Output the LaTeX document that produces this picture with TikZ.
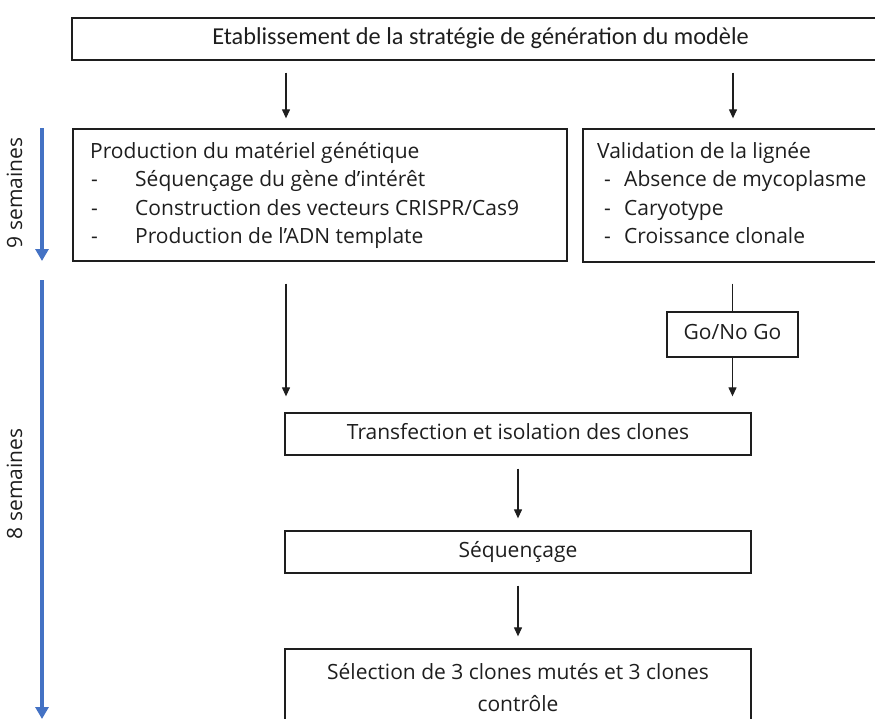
\documentclass[tikz,border=0pt]{standalone}
\usepackage{fontspec}
\setmainfont{Open Sans}
\newfontfamily\titlefont{Carlito}
\usetikzlibrary{arrows.meta, positioning, calc}
\definecolor{timeblue}{HTML}{4472C4}
\definecolor{inkgray}{HTML}{1E1E1E}

\begin{document}
\begin{tikzpicture}[x=1pt, y=-1pt,
    box/.style={draw=inkgray, line width=1.3pt, inner sep=0pt},
    boxtext/.style={font=\fontsize{21}{25}\selectfont, text=inkgray, inner sep=0pt,
                    text height=15pt, text depth=5pt},
    arrowline/.style={-{Triangle[length=9pt, width=8pt]}, line width=1.2pt, inkgray},
    plainline/.style={line width=1.2pt, inkgray},
    timeline/.style={-{Triangle[length=12pt, width=13pt]}, line width=3.2pt, timeblue}]
  \useasboundingbox (0,0) rectangle (875,718);
  \clip (0,0) rectangle (875,718);
  % Columns
  \coordinate (lcol) at (286,0);
  \coordinate (rcol) at (733,0);
  % Strategy
  \node[box, minimum width=817pt, minimum height=42pt] (strat) at (480.5,39) {};
  \node[boxtext, font=\titlefont\fontsize{24.3}{28}\selectfont] (strat-t) at (strat.center) {Etablissement de la stratégie de génération du modèle};
  % Genetic material
  \node[box, minimum width=494pt, minimum height=132pt] (prod) at (320,195) {};
  \node[boxtext, anchor=west] (prod-t) at (90,153) {Production du matériel génétique};
  \foreach \txt [count=\i] in {Séquençage du gène d’intérêt, Construction des vecteurs CRISPR/Cas9, Production de l’ADN template}{
    \node[boxtext, anchor=west] (prod-d\i) at (91,153+28.5*\i) {-};
    \node[boxtext, anchor=west] (prod-\i) at (135,153+28.5*\i) {\txt};
  }
  % Cell line
  \node[box, minimum width=307pt, minimum height=133pt] (valid) at (736.5,195.5) {};
  \node[boxtext, anchor=west] (valid-t) at (597,153) {Validation de la lignée};
  \foreach \txt [count=\i] in {Absence de mycoplasme, Caryotype, Croissance clonale}{
    \node[boxtext, anchor=west] (valid-d\i) at (604,153+28.5*\i) {-};
    \node[boxtext, anchor=west] (valid-\i) at (624,153+28.5*\i) {\txt};
  }
  % Decision and steps
  \node[box, boxtext, minimum width=131pt, minimum height=45pt] (gonogo) at (732.5,334.5) {Go/No Go};
  \node[box, boxtext, minimum width=466pt, minimum height=42pt] (transf) at (518,434) {Transfection et isolation des clones};
  \node[box, boxtext, minimum width=466pt, minimum height=42pt] (seq) at (518,552) {Séquençage};
  \node[box, minimum width=466pt, minimum height=82pt] (select) at (518,690) {};
  \node[boxtext, text height={}, text depth={}, align=center, anchor=north,
        font=\fontsize{21}{32}\selectfont] (select-t) at ([yshift=-15pt]select.north)
        {Sélection de 3 clones mutés et 3 clones\\contrôle};
  % Flow
  \draw[arrowline, shorten <=12pt, shorten >=10pt] (strat.south -| lcol) -- (prod.north -| lcol);
  \draw[arrowline, shorten <=12pt, shorten >=10pt] (strat.south -| rcol) -- (valid.north -| rcol);
  \draw[arrowline, shorten <=22pt, shorten >=16pt] (prod.south -| lcol) -- (transf.north -| lcol);
  \draw[plainline, shorten <=21pt] (valid.south -| gonogo) -- (gonogo.north);
  \draw[arrowline, shorten >=16pt] (gonogo.south) -- (transf.north -| gonogo);
  \draw[arrowline, shorten <=13pt, shorten >=12pt] (transf.south) -- (seq.north);
  \draw[arrowline, shorten <=12pt, shorten >=12pt] (seq.south) -- (select.north);
  % Timeline
  \coordinate (wk9a) at (42,128);
  \coordinate (wk9b) at (42,261);
  \coordinate (wk8a) at (42,280);
  \coordinate (wk8b) at (42,719);
  \draw[timeline] (wk9a) -- (wk9b);
  \draw[timeline] (wk8a) -- (wk8b);
  \node[boxtext, rotate=90] (wk9-t) at (17,193) {9 semaines};
  \node[boxtext, rotate=90] (wk8-t) at (17,484) {8 semaines};
\end{tikzpicture}
\end{document}
